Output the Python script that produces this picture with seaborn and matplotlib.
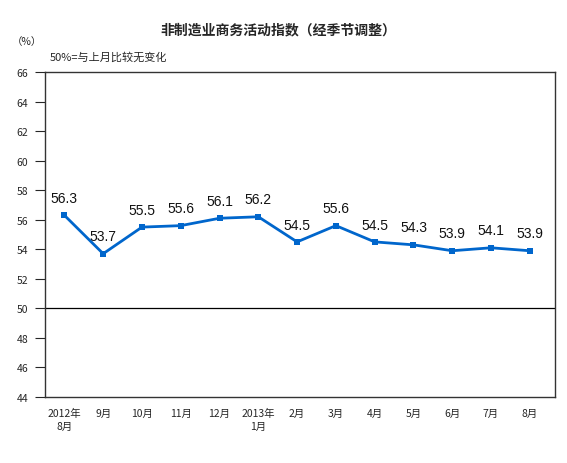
import matplotlib
matplotlib.use('Agg')
import matplotlib.pyplot as plt
import numpy as np
import pandas as pd
import seaborn as sns

months = ['2012年\n8月', '9月', '10月', '11月', '12月', '2013年\n1月', '2月',
          '3月', '4月', '5月', '6月', '7月', '8月']
index_values = [56.3, 53.7, 55.5, 55.6, 56.1, 56.2, 54.5, 55.6, 54.5, 54.3, 53.9, 54.1, 53.9]
y_ticks = list(range(44, 67, 2))

sns.set_style('white')
plt.rcParams['font.family'] = ['Noto Sans CJK SC', 'DejaVu Sans']

df = pd.DataFrame({'pos': np.arange(len(months)), 'value': index_values})

fig = plt.figure(figsize=(5.67, 4.64), dpi=100)
ax = fig.add_axes([45 / 567, 1 - 398 / 464, 510 / 567, 325 / 464])

sns.lineplot(data=df, x='pos', y='value', ax=ax, color='#0066CC', linewidth=2,
             marker='s', markersize=5, markeredgewidth=0)

for x, v in zip(df['pos'], df['value']):
    ax.text(x, v + 0.7, f'{v:.1f}', ha='center', va='bottom', fontsize=10,
            family=['Liberation Sans'], color='#111111')

ax.axhline(50, color='black', linewidth=0.9)

ax.set_xlim(-0.5, 12.65)
ax.set_ylim(44, 66)
ax.set_yticks(y_ticks)
ax.set_yticklabels([str(t) for t in y_ticks], fontsize=7.5)
ax.set_xticks(df['pos'])
ax.set_xticklabels(months, fontsize=7.5, linespacing=1.3)
ax.tick_params(axis='y', direction='out', length=7, width=0.8, pad=5, left=True)
ax.tick_params(axis='x', length=0, pad=8)
ax.set_xlabel('')
ax.set_ylabel('')
for s in ax.spines.values():
    s.set_color('#333333')
    s.set_linewidth(1)

fig.text(0.49, 1 - 30 / 464, '非制造业商务活动指数（经季节调整）', ha='center', va='center',
         fontsize=10, fontweight='bold')
fig.text(12 / 567, 1 - 42 / 464, '（%）', ha='left', va='center', fontsize=7.5)
fig.text(50 / 567, 1 - 57 / 464, '50%=与上月比较无变化', ha='left', va='center', fontsize=8)

fig.savefig('out.png', dpi=100)
